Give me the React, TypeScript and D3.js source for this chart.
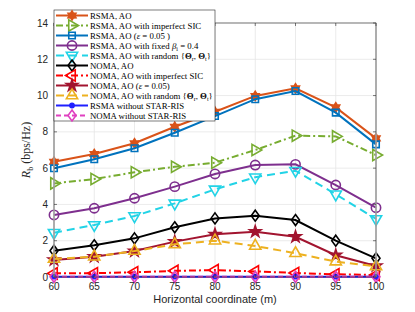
import React from "react";
import * as d3 from "d3";

const xs = [60, 65, 70, 75, 80, 85, 90, 95, 100];
const xTicks = [60, 65, 70, 75, 80, 85, 90, 95, 100];
const yTicks = [0, 2, 4, 6, 8, 10, 12, 14];

const rsmaAO = [6.35, 6.78, 7.37, 8.28, 9.11, 9.98, 10.4, 9.35, 7.64];
const rsmaImpSIC = [5.16, 5.4, 5.77, 6.08, 6.3, 7.0, 7.79, 7.75, 6.72];
const rsmaEps = [5.99, 6.49, 7.1, 7.95, 8.87, 9.8, 10.25, 9.06, 7.31];
const rsmaFixedBeta = [3.42, 3.79, 4.34, 4.98, 5.68, 6.17, 6.21, 5.07, 3.82];
const rsmaRandom = [2.44, 2.87, 3.36, 4.06, 4.83, 5.5, 5.86, 4.56, 3.2];
const nomaAO = [1.45, 1.75, 2.13, 2.74, 3.23, 3.38, 3.14, 2.0, 1.03];
const nomaImpSIC = [0.2, 0.21, 0.26, 0.34, 0.38, 0.31, 0.22, 0.15, 0.11];
const nomaEps = [0.94, 1.12, 1.43, 1.95, 2.35, 2.5, 2.22, 1.2, 0.61];
const nomaRandom = [0.99, 1.12, 1.43, 1.8, 2.0, 1.71, 1.31, 0.85, 0.58];
const rsmaNoRIS = [0.02, 0.02, 0.02, 0.02, 0.02, 0.02, 0.02, 0.02, 0.02];
const nomaNoRIS = [0.01, 0.01, 0.01, 0.01, 0.01, 0.01, 0.01, 0.01, 0.01];

type Marker = "hexagram" | "triR" | "square" | "circle" | "triD" | "diamond" | "triL" | "star" | "triU" | "dot";

interface Series {
  label: React.ReactNode;
  values: number[];
  color: string;
  dash: string;
  marker: Marker;
  filled: boolean;
}

const Theta = () => <tspan fontWeight="bold">Θ</tspan>;

const series: Series[] = [
  { label: "RSMA, AO", values: rsmaAO, color: "#D95319", dash: "", marker: "hexagram", filled: true },
  { label: "RSMA, AO with imperfect SIC", values: rsmaImpSIC, color: "#77AC30", dash: "7,3,2,3", marker: "triR", filled: false },
  { label: <>RSMA, AO (<tspan fontStyle="italic">ε</tspan> = 0.05 )</>, values: rsmaEps, color: "#0072BD", dash: "", marker: "square", filled: false },
  { label: <>RSMA, AO with fixed <tspan fontStyle="italic">β</tspan><tspan fontSize="6" dy="2">i</tspan><tspan dy="-2"> = 0.4</tspan></>, values: rsmaFixedBeta, color: "#7E2F8E", dash: "", marker: "circle", filled: false },
  { label: <>RSMA, AO with random {"{"}<Theta /><tspan fontSize="6" dy="2">r</tspan><tspan dy="-2">, </tspan><Theta /><tspan fontSize="6" dy="2">t</tspan><tspan dy="-2">{"}"}</tspan></>, values: rsmaRandom, color: "#22D3E6", dash: "8,5", marker: "triD", filled: false },
  { label: "NOMA, AO", values: nomaAO, color: "#000000", dash: "", marker: "diamond", filled: false },
  { label: "NOMA, AO with imperfect SIC", values: nomaImpSIC, color: "#FF0000", dash: "7,3,2,3", marker: "triL", filled: false },
  { label: <>NOMA, AO (<tspan fontStyle="italic">ε</tspan> = 0.05)</>, values: nomaEps, color: "#A2142F", dash: "", marker: "star", filled: true },
  { label: <>NOMA, AO with random {"{"}<Theta /><tspan fontSize="6" dy="2">r</tspan><tspan dy="-2">, </tspan><Theta /><tspan fontSize="6" dy="2">t</tspan><tspan dy="-2">{"}"}</tspan></>, values: nomaRandom, color: "#EDB120", dash: "8,5", marker: "triU", filled: false },
  { label: "RSMA without STAR-RIS", values: rsmaNoRIS, color: "#1F1FFF", dash: "", marker: "dot", filled: true },
  { label: "NOMA without STAR-RIS", values: nomaNoRIS, color: "#E040C0", dash: "5,3", marker: "diamond", filled: false },
];

const hexagram = (r: number) => {
  const pts: string[] = [];
  for (let i = 0; i < 12; i++) {
    const a = (Math.PI / 6) * i - Math.PI / 2;
    const rr = i % 2 === 0 ? r : r * 0.6;
    pts.push(`${(rr * Math.cos(a)).toFixed(2)},${(rr * Math.sin(a)).toFixed(2)}`);
  }
  return "M" + pts.join("L") + "Z";
};

// MATLAB-like diamond: taller than wide
const diamond = (w: number, h: number) => `M0,${-h}L${w},0L0,${h}L${-w},0Z`;

const markerPath = (m: Marker): { d: string; rot: number } => {
  const sym = (t: d3.SymbolType, s: number) => d3.symbol().type(t).size(s)() || "";
  switch (m) {
    case "hexagram": return { d: hexagram(4.6), rot: 0 };
    case "triR": return { d: sym(d3.symbolTriangle, 55), rot: 90 };
    case "square": return { d: sym(d3.symbolSquare, 42), rot: 0 };
    case "circle": return { d: sym(d3.symbolCircle, 68), rot: 0 };
    case "triD": return { d: sym(d3.symbolTriangle, 55), rot: 180 };
    case "diamond": return { d: diamond(4, 5.5), rot: 0 };
    case "triL": return { d: sym(d3.symbolTriangle, 55), rot: -90 };
    case "star": return { d: sym(d3.symbolStar, 40), rot: 0 };
    case "triU": return { d: sym(d3.symbolTriangle, 55), rot: 0 };
    case "dot": return { d: sym(d3.symbolCircle, 14), rot: 0 };
  }
};

const MarkerShape = ({ s, x, y }: { s: Series; x: number; y: number }) => {
  const { d, rot } = markerPath(s.marker);
  return (
    <path
      d={d}
      transform={`translate(${x},${y}) rotate(${rot})`}
      fill={s.filled ? s.color : "none"}
      stroke={s.color}
      strokeWidth={1.6}
    />
  );
};

const App = () => {
  const width = 415;
  const height = 312;
  const left = 54;
  const right = 376;
  const top = 23;
  const bottom = 277;

  const x = d3.scaleLinear().domain([60, 100]).range([left, right]);
  const y = d3.scaleLinear().domain([0, 14]).range([bottom, top]);

  const line = d3
    .line<number>()
    .x((_, i) => x(xs[i]))
    .y((v) => y(v));

  const legendX = 54;
  const legendY = 10;
  const legendW = 161;
  const rowH = 10;

  return (
    <svg width={width} height={height} style={{ position: "absolute", left: 0, top: 0, background: "#fff" }}>
      {/* grid */}
      {xTicks.map((t) => (
        <line key={"gx" + t} x1={x(t)} x2={x(t)} y1={top} y2={bottom} stroke="#e6e6e6" strokeWidth={0.8} />
      ))}
      {yTicks.map((t) => (
        <line key={"gy" + t} x1={left} x2={right} y1={y(t)} y2={y(t)} stroke="#e6e6e6" strokeWidth={0.8} />
      ))}

      {/* series */}
      {series.map((s, si) => (
        <g key={si}>
          <path d={line(s.values) || ""} fill="none" stroke={s.color} strokeWidth={2} strokeDasharray={s.dash} />
          {s.values.map((v, i) => (
            <MarkerShape key={i} s={s} x={x(xs[i])} y={y(v)} />
          ))}
        </g>
      ))}

      {/* axes box */}
      <rect x={left} y={top} width={right - left} height={bottom - top} fill="none" stroke="#262626" strokeWidth={0.6} />
      <line x1={left} x2={left} y1={top} y2={bottom} stroke="#aaa" strokeWidth={1.5} />
      <line x1={right} x2={right} y1={top} y2={bottom} stroke="#aaa" strokeWidth={1.5} />
      {xTicks.map((t) => (
        <g key={"tx" + t}>
          <line x1={x(t)} x2={x(t)} y1={bottom} y2={bottom - 3} stroke="#262626" strokeWidth={0.6} />
          <line x1={x(t)} x2={x(t)} y1={top} y2={top + 3} stroke="#262626" strokeWidth={0.6} />
          <text x={x(t)} y={bottom + 13} textAnchor="middle" fontFamily="Liberation Sans, Arial, sans-serif" fontSize={10} fill="#262626">
            {t}
          </text>
        </g>
      ))}
      {yTicks.map((t) => (
        <g key={"ty" + t}>
          <line x1={left} x2={left + 3} y1={y(t)} y2={y(t)} stroke="#262626" strokeWidth={0.6} />
          <line x1={right} x2={right - 3} y1={y(t)} y2={y(t)} stroke="#262626" strokeWidth={0.6} />
          <text x={left - 6} y={y(t) + 3.5} textAnchor="end" fontFamily="Liberation Sans, Arial, sans-serif" fontSize={10} fill="#262626">
            {t}
          </text>
        </g>
      ))}

      {/* axis labels */}
      <text x={(left + right) / 2} y={303} textAnchor="middle" fontFamily="Liberation Sans, Arial, sans-serif" fontSize={11} fill="#262626">
        Horizontal coordinate (m)
      </text>
      <text
        transform={`translate(30,${(top + bottom) / 2}) rotate(-90)`}
        textAnchor="middle"
        fontFamily="Liberation Serif, Times New Roman, serif"
        fontSize={12}
        fill="#262626"
      >
        <tspan fontStyle="italic">R</tspan>
        <tspan fontSize={8} dy={3}>b</tspan>
        <tspan dy={-3}> (bps/Hz)</tspan>
      </text>

      {/* legend */}
      <rect x={legendX} y={legendY} width={legendW} height={rowH * series.length + 1} fill="#fff" stroke="#262626" strokeWidth={0.6} />
      {series.map((s, i) => {
        const cy = legendY + 5.5 + i * rowH;
        return (
          <g key={"lg" + i}>
            <line x1={legendX + 2} x2={legendX + 34} y1={cy} y2={cy} stroke={s.color} strokeWidth={2} strokeDasharray={s.dash} />
            <MarkerShape s={s} x={legendX + 18} y={cy} />
            <text x={legendX + 36} y={cy + 3} fontFamily="Liberation Serif, Times New Roman, serif" fontSize={8.8} fill="#000">
              {s.label}
            </text>
          </g>
        );
      })}
    </svg>
  );
};

export default App;
